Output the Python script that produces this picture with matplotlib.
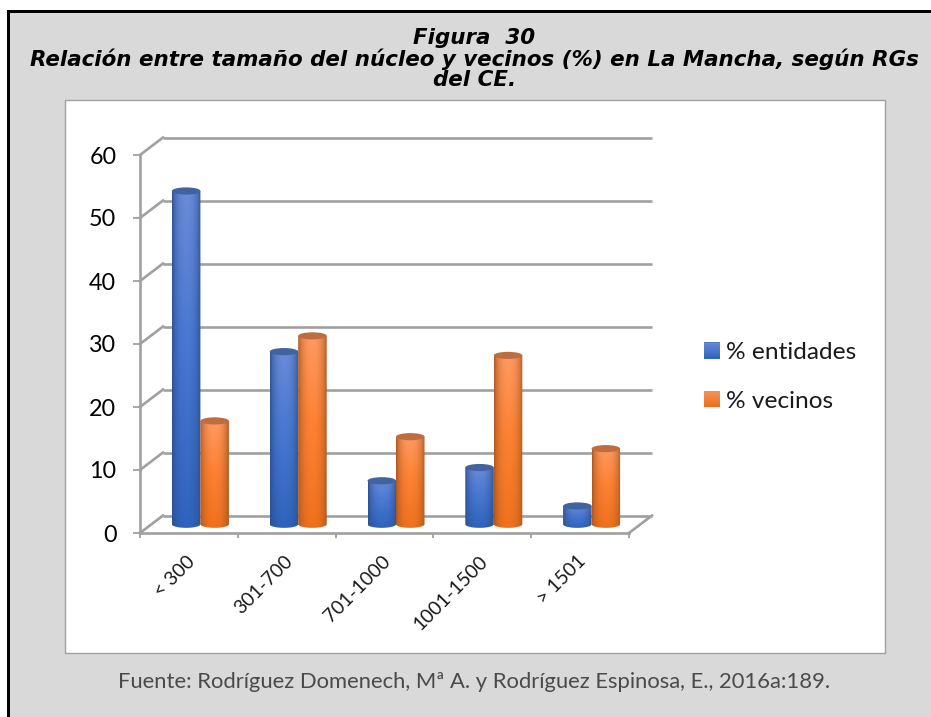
import numpy as np
import matplotlib
matplotlib.use("Agg")
import matplotlib.pyplot as plt
from matplotlib.patches import Rectangle, Ellipse, PathPatch, Patch
from matplotlib.path import Path
from matplotlib.transforms import ScaledTranslation

categories = ["< 300", "301-700", "701-1000", "1001-1500", "> 1501"]
entidades = [52.9, 27.4, 6.9, 9.0, 2.9]
vecinos = [16.4, 29.9, 13.9, 26.8, 12.0]
y_ticks = [0, 10, 20, 30, 40, 50, 60]
title = "Figura  30\nRelación entre tamaño del núcleo y vecinos (%) en La Mancha, según RGs\ndel CE."
source = "Fuente: Rodríguez Domenech, Mª A. y Rodríguez Espinosa, E., 2016a:189."
series_names = ["% entidades", "% vecinos"]

W, H = 931, 717
BODY = "Lato"
GRID = "#a0a0a0"
DX, DY = 23 / 97.8, 17.5 / 6.3   # floor depth in data units
BAR_W = 28.5 / 97.8
ELL = 3.6 / 6.3

fig = plt.figure(figsize=(W / 100, H / 100), dpi=100, facecolor="white")

def fx(p): return p / W
def fy(p): return 1 - p / H

fig.patches.append(Rectangle((fx(10), 0), fx(W - 10), fy(13), transform=fig.transFigure,
                             facecolor="#d9d9d9", edgecolor="none", zorder=-5))
fig.patches.append(Rectangle((fx(7), 0), fx(3.2), fy(10), transform=fig.transFigure,
                             facecolor="black", edgecolor="none", zorder=-4))
fig.patches.append(Rectangle((fx(7), fy(13)), fx(W - 7), 3 / H, transform=fig.transFigure,
                             facecolor="black", edgecolor="none", zorder=-4))
fig.patches.append(Rectangle((fx(64.5), fy(653)), fx(820), 553 / H, transform=fig.transFigure,
                             facecolor="white", edgecolor="#a0a0a0", linewidth=1.0, zorder=-3))

fig.text(fx(474.5), fy(59), title, ha="center", va="center", family="DejaVu Sans",
         style="italic", weight="bold", fontsize=15.4, linespacing=0.99, color="black")
fig.text(fx(474.5), fy(682), source, ha="center", va="center", family=BODY,
         fontsize=15.8, color="#4a4a4a")

ax = fig.add_axes([fx(140), fy(533), fx(489), 378 / H])
ax.patch.set_visible(False)
ax.set_xlim(0, len(categories))
ax.set_ylim(0, 60)

for s in ["top", "right"]:
    ax.spines[s].set_visible(False)
for s in ["left", "bottom"]:
    ax.spines[s].set_color(GRID)
    ax.spines[s].set_linewidth(1.9)

ax.set_yticks(y_ticks)
ax.set_xticks(np.arange(len(categories) + 1))
ax.set_xticklabels([])
ax.tick_params(axis="y", length=5, width=1.3, color=GRID, labelsize=16.8, pad=12)
ax.tick_params(axis="x", length=3.6, width=1.3, color=GRID)
for t in ax.get_yticklabels():
    t.set_family(BODY)
ax.set_xticks(np.arange(len(categories)) + 0.5, minor=True)
ax.set_xticklabels(categories, minor=True, rotation=45, ha="right", va="top",
                   rotation_mode="anchor", family=BODY, fontsize=13.9, color="#1a1a1a")
ax.tick_params(axis="x", which="minor", length=0, pad=14)
for t in ax.get_xticklabels(minor=True):
    t.set_transform(t.get_transform() + ScaledTranslation(-0.03, 0, fig.dpi_scale_trans))

# back-wall grid, depth connectors and floor edge
for v in y_ticks:
    ax.plot([DX, len(categories) + DX], [v + DY, v + DY], color=GRID, lw=1.9,
            clip_on=False, zorder=1, solid_capstyle="butt")
    ax.plot([0, DX], [v, v + DY], color=GRID, lw=1.9, clip_on=False, zorder=1)
ax.plot([len(categories), len(categories) + DX], [0, DY], color=GRID, lw=1.9, clip_on=False, zorder=1)

def hex2(c):
    return np.array(matplotlib.colors.to_rgb(c))

def cylinder_img(edge, top, mid, bottom, nx=64, ny=128):
    u = np.linspace(-1, 1, nx)
    shade = (1 - np.abs(u) ** 2.2)[None, :, None]
    v = np.linspace(0, 1, ny)[:, None]
    col = np.where(v < 0.45, top + (mid - top) * (v / 0.45), mid + (bottom - mid) * ((v - 0.45) / 0.55))
    center = col[:, None, :]
    return np.clip(edge + (center - edge) * shade ** 0.7, 0, 1) * np.ones((ny, nx, 3))

PAL = {
    0: dict(edge="#2b4f8e", top="#6a8bd8", mid="#4878d2", bottom="#2f63bc", cap="#41639f"),
    1: dict(edge="#a9561f", top="#ff9a62", mid="#fd8233", bottom="#ef711d", cap="#bf6d40"),
}

def draw_cyl(cx, base, val, pal, z):
    top_y = base + val
    t = np.linspace(np.pi, 2 * np.pi, 40)
    xs = cx + BAR_W / 2 * np.cos(t)
    ys = base + ELL * np.sin(t)
    verts = np.column_stack([np.r_[xs, cx + BAR_W / 2, cx - BAR_W / 2, xs[0]],
                             np.r_[ys, top_y, top_y, ys[0]]])
    clip = PathPatch(Path(verts), transform=ax.transData, facecolor="none", edgecolor="none")
    ax.add_patch(clip)
    clip.set_clip_on(False)
    img = cylinder_img(hex2(pal["edge"]), hex2(pal["top"]), hex2(pal["mid"]), hex2(pal["bottom"]))
    im = ax.imshow(img, extent=(cx - BAR_W / 2, cx + BAR_W / 2, base - ELL, top_y),
                   aspect="auto", origin="upper", zorder=z, interpolation="bilinear")
    im.set_clip_path(clip)
    ax.add_patch(Ellipse((cx, top_y), BAR_W, 2 * ELL, angle=0, facecolor=pal["cap"],
                         edgecolor="none", zorder=z + 0.1, clip_on=False))

for i in range(len(categories)):
    c = i + 0.5 + DX / 2
    draw_cyl(c - BAR_W / 2, DY / 2, entidades[i], PAL[0], 3 + i)
    draw_cyl(c + BAR_W / 2, DY / 2, vecinos[i], PAL[1], 3.5 + i)

ax.set_xlim(0, len(categories))
ax.set_ylim(0, 60)

leg = fig.legend(handles=[Patch(facecolor="#4a76cb", label=series_names[0]),
                          Patch(facecolor="#f17f3c", label=series_names[1])],
                 loc="center left", bbox_to_anchor=(fx(704), fy(377)), frameon=False,
                 prop={"family": BODY, "size": 17.6}, handlelength=0.66, handleheight=0.66,
                 handletextpad=0.26, labelspacing=1.12, labelcolor="#1a1a1a",
                 borderpad=0, borderaxespad=0)

# gradient fill on the legend keys
fig.canvas.draw()
key_cols = [("#6487d4", "#2f64bf"), ("#f6925c", "#ec6f1c")]
for patch, (c0, c1) in zip(leg.get_patches(), key_cols):
    bb = patch.get_window_extent()
    w, h = int(round(bb.width)), int(round(bb.height))
    ramp = np.linspace(0, 1, h)[:, None, None]
    arr = (hex2(c0) + (hex2(c1) - hex2(c0)) * ramp) * np.ones((h, w, 3))
    fig.figimage(arr, xo=int(round(bb.x0)), yo=int(round(bb.y0)), origin="upper", zorder=10)

fig.savefig("out.png", dpi=100, facecolor="white")
